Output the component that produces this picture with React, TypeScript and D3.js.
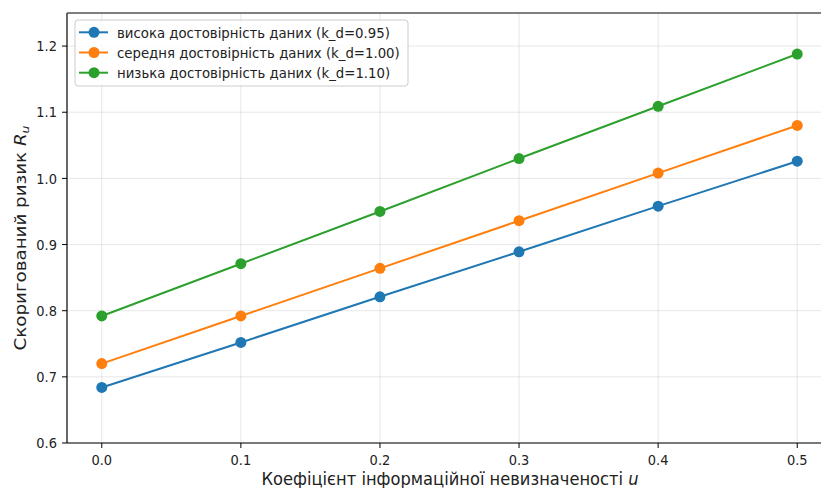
import React from "react";
import * as d3 from "d3";

const uValues = [0.0, 0.1, 0.2, 0.3, 0.4, 0.5];
const seriesNames = [
  "висока достовірність даних (k_d=0.95)",
  "середня достовірність даних (k_d=1.00)",
  "низька достовірність даних (k_d=1.10)",
];
const highValues = [0.684, 0.752, 0.821, 0.889, 0.958, 1.026];
const midValues = [0.72, 0.792, 0.864, 0.936, 1.008, 1.08];
const lowValues = [0.792, 0.871, 0.95, 1.03, 1.109, 1.188];
const xTicks = [0.0, 0.1, 0.2, 0.3, 0.4, 0.5];
const yTicks = [0.6, 0.7, 0.8, 0.9, 1.0, 1.1, 1.2];
const colors = ["#1f77b4", "#ff7f0e", "#2ca02c"];

const W = 821;
const H = 488;
const font = "DejaVu Sans, sans-serif";
const VS = 1.12; // vertical stretch of text

export default function App() {
  const x = d3.scaleLinear().domain([-0.025, 0.525]).range([67, 832]);
  const y = d3.scaleLinear().domain([0.6, 1.25]).range([443, 13]);
  const series = [highValues, midValues, lowValues];
  const line = d3
    .line<number>()
    .x((_, i) => x(uValues[i]))
    .y((d) => y(d));

  return (
    <svg
      width={W}
      height={H}
      style={{ position: "absolute", left: 0, top: 0, background: "#fff" }}
      fontFamily={font}
    >
      <rect width={W} height={H} fill="#fff" />
      {xTicks.map((t) => (
        <line key={"gx" + t} x1={x(t)} x2={x(t)} y1={y(1.25)} y2={y(0.6)} stroke="#b0b0b0" strokeOpacity={0.3} strokeWidth={1} />
      ))}
      {yTicks.map((t) => (
        <line key={"gy" + t} x1={x(-0.025)} x2={W} y1={y(t)} y2={y(t)} stroke="#b0b0b0" strokeOpacity={0.3} strokeWidth={1} />
      ))}
      {series.map((s, si) => (
        <g key={"s" + si}>
          <path d={line(s) || ""} fill="none" stroke={colors[si]} strokeWidth={2} />
          {s.map((v, i) => (
            <circle key={i} cx={x(uValues[i])} cy={y(v)} r={5.5} fill={colors[si]} />
          ))}
        </g>
      ))}
      <line x1={67} x2={67} y1={13} y2={443} stroke="#000" strokeWidth={1.2} />
      <line x1={67} x2={W} y1={443} y2={443} stroke="#000" strokeWidth={1.2} />
      <line x1={67} x2={W} y1={13} y2={13} stroke="#555" strokeWidth={1.6} />
      {yTicks.map((t) => (
        <g key={"yt" + t}>
          <line x1={62} x2={67} y1={y(t)} y2={y(t)} stroke="#000" strokeWidth={1} />
          <text
            transform={`translate(57,${y(t)}) scale(1,${VS})`}
            dy="0.36em"
            textAnchor="end"
            fontSize={13}
            fill="#222"
          >
            {t.toFixed(1)}
          </text>
        </g>
      ))}
      {xTicks.map((t) => (
        <g key={"xt" + t}>
          <line x1={x(t)} x2={x(t)} y1={443} y2={448} stroke="#000" strokeWidth={1} />
          <text
            transform={`translate(${x(t)},465) scale(1,${VS})`}
            textAnchor="middle"
            fontSize={13}
            fill="#222"
          >
            {t.toFixed(1)}
          </text>
        </g>
      ))}
      <text
        transform={`translate(450,484.5) scale(1,${VS})`}
        textAnchor="middle"
        fontSize={16.3}
        fill="#222"
      >
        Коефіцієнт інформаційної невизначеності <tspan fontStyle="italic">u</tspan>
      </text>
      <text
        transform={`translate(26,${(13 + 443) / 2 + 10}) rotate(-90) scale(${VS},1)`}
        textAnchor="middle"
        fontSize={16.3}
        fill="#222"
      >
        Скоригований ризик <tspan fontStyle="italic">R</tspan>
        <tspan fontStyle="italic" fontSize={11} dy={3}>u</tspan>
      </text>
      <rect x={75} y={20} width={333} height={66} rx={3} fill="#fff" fillOpacity={0.8} stroke="#ccc" strokeWidth={1} />
      {seriesNames.map((name, i) => {
        const ly = 32.3 + i * 20.2;
        return (
          <g key={"lg" + i}>
            <line x1={79} x2={108} y1={ly} y2={ly} stroke={colors[i]} strokeWidth={2} />
            <circle cx={94} cy={ly} r={5.5} fill={colors[i]} />
            <text
              transform={`translate(117,${ly}) scale(1,${VS})`}
              dy="0.36em"
              fontSize={13.3}
              fill="#222"
            >
              {name}
            </text>
          </g>
        );
      })}
    </svg>
  );
}
